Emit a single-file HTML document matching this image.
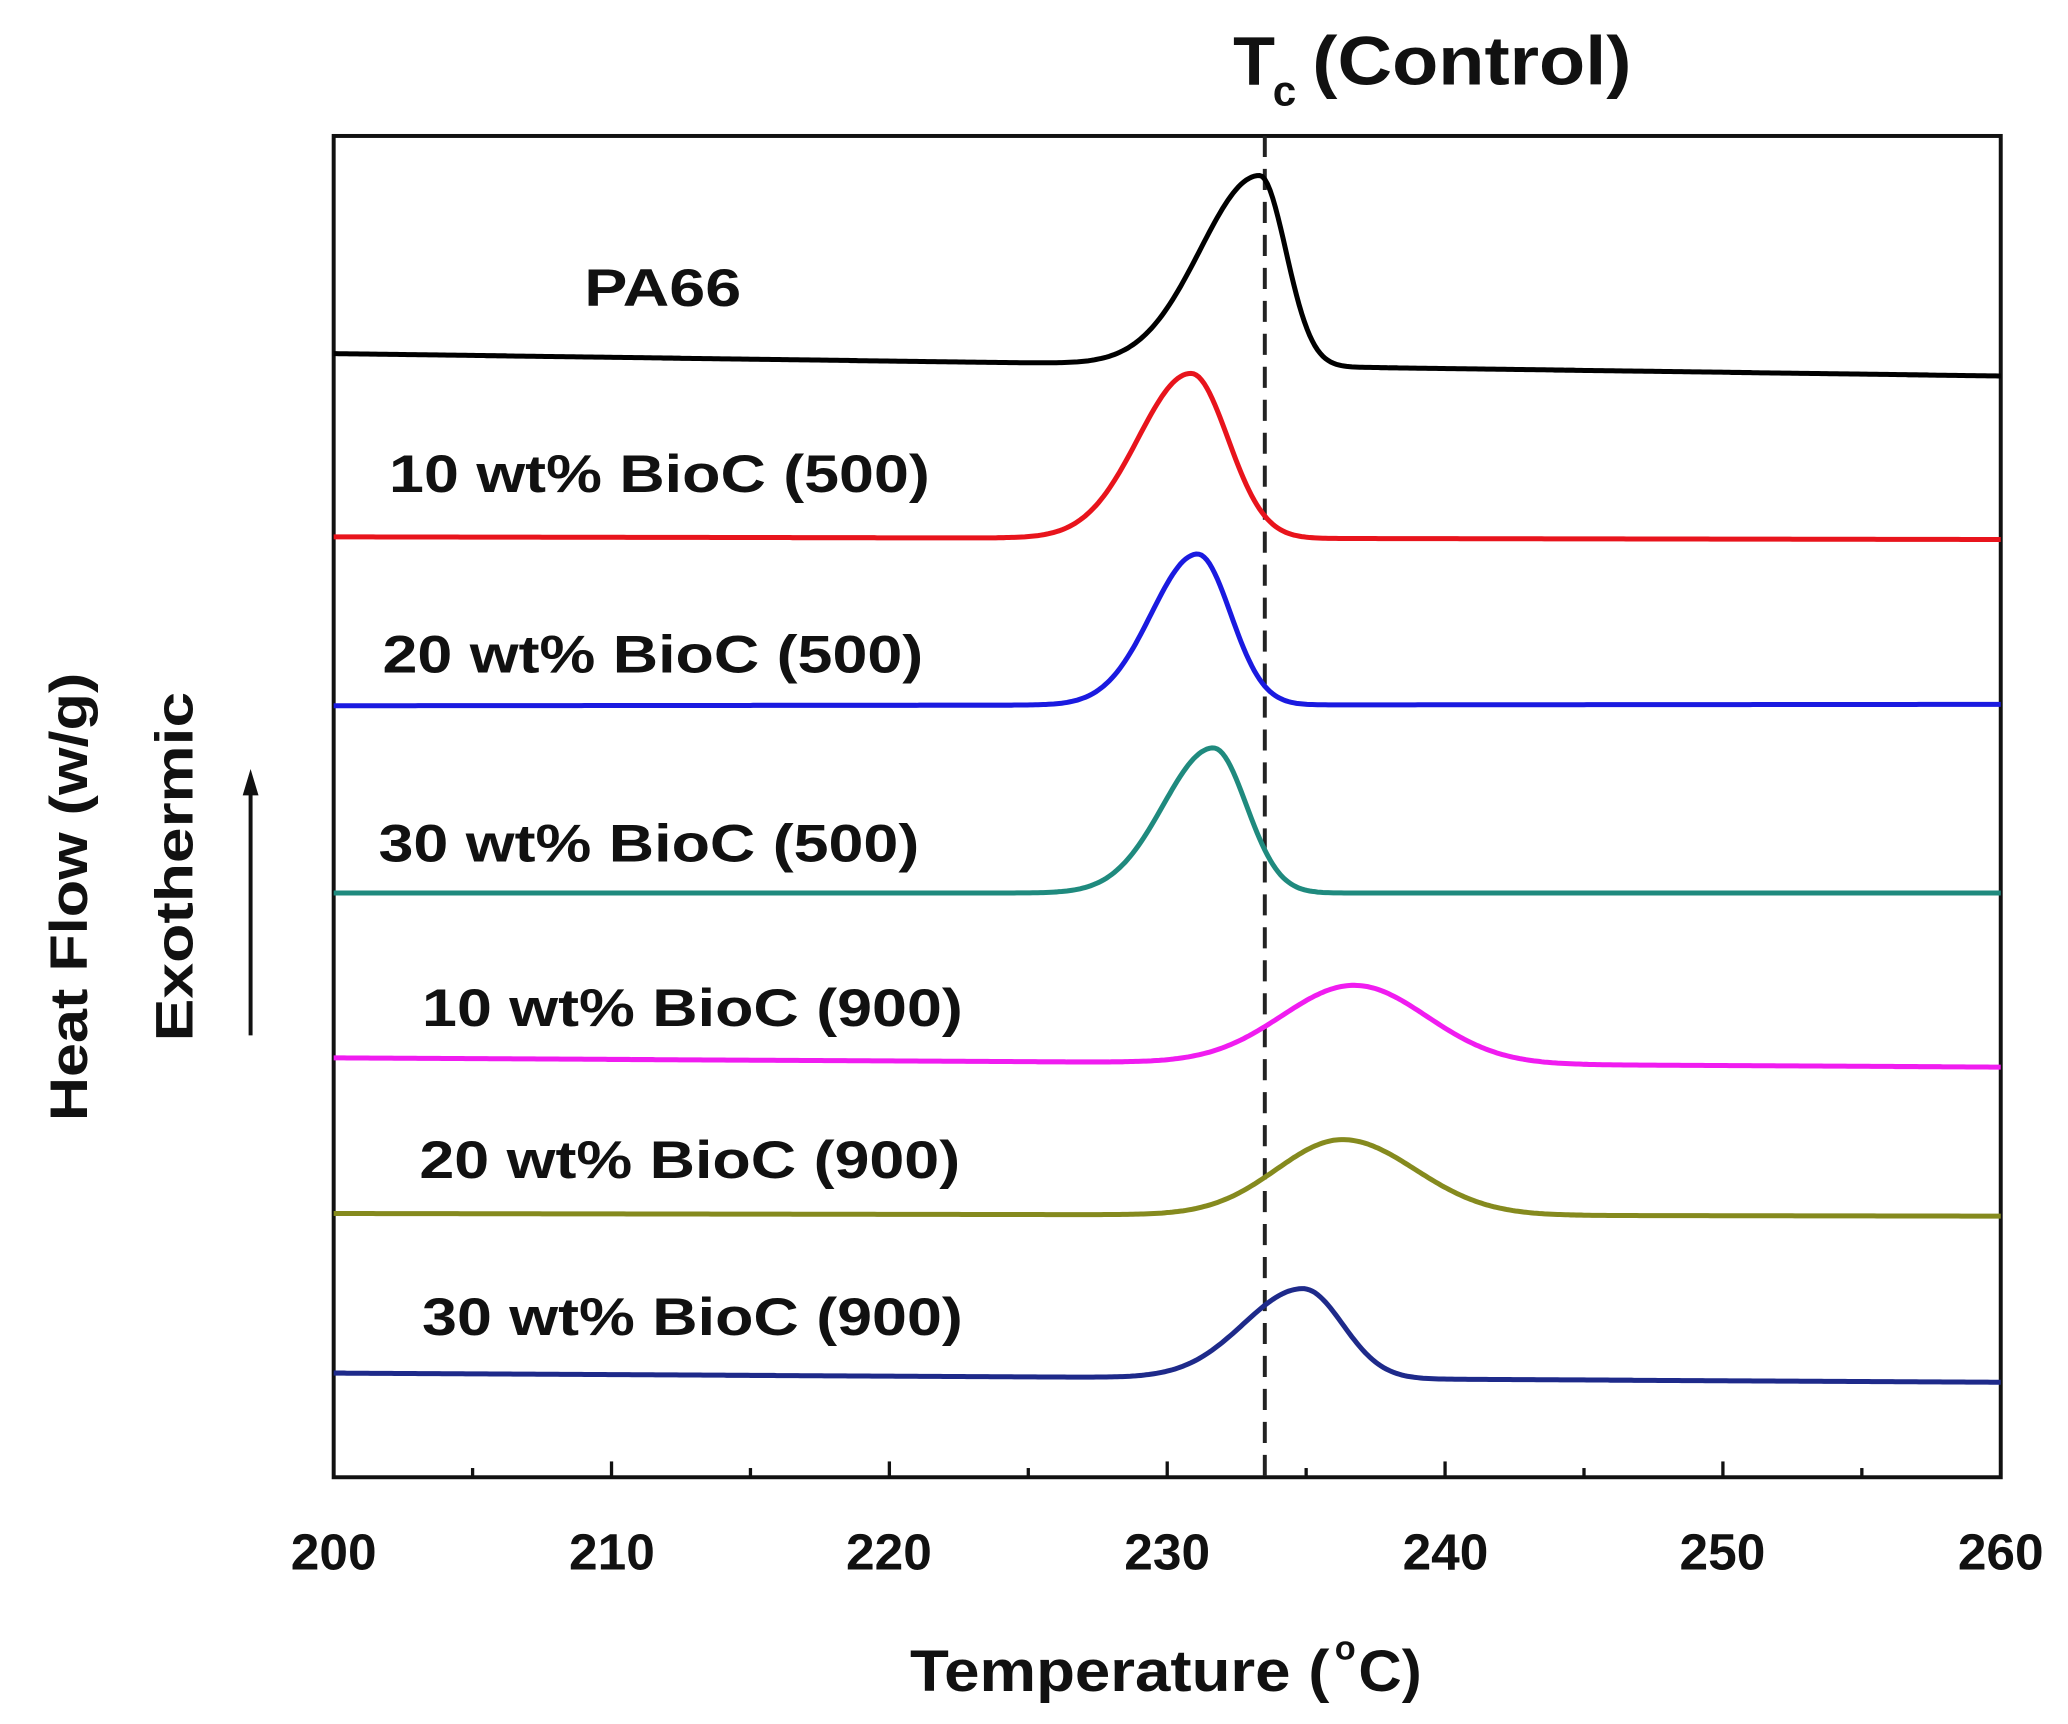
<!DOCTYPE html>
<html><head><meta charset="utf-8"><style>
html,body{margin:0;padding:0;background:#fff;}
svg{display:block;}
text{font-family:"Liberation Sans",Arial,sans-serif;font-weight:bold;fill:#111;}
</style></head><body>
<svg id="s" width="2068" height="1724" viewBox="0 0 1568 1307" xmlns="http://www.w3.org/2000/svg">
<rect x="253" y="103" width="1264" height="1017" fill="none" stroke="#111" stroke-width="3"/>
<line x1="959" y1="103" x2="959" y2="1120" stroke="#222" stroke-width="3" stroke-dasharray="16,9"/>
<g id="ticks" stroke="#111" stroke-width="2.5"></g>
<g id="curves" fill="none" stroke-width="3.8"></g>
<g font-size="39" text-anchor="middle">
<text x="253" y="1190">200</text><text x="464" y="1190">210</text><text x="674" y="1190">220</text>
<text x="885" y="1190">230</text><text x="1096" y="1190">240</text><text x="1306" y="1190">250</text><text x="1517" y="1190">260</text>
</g>
<text x="690" y="1282" font-size="44" textLength="318" lengthAdjust="spacingAndGlyphs">Temperature (</text>
<text x="1012" y="1258" font-size="26">o</text>
<text x="1030" y="1282" font-size="44" textLength="48" lengthAdjust="spacingAndGlyphs">C)</text>
<text x="935" y="64" font-size="52">T</text>
<text x="965" y="80" font-size="32">c</text>
<text x="995" y="64" font-size="52" textLength="242" lengthAdjust="spacingAndGlyphs">(Control)</text>
<g font-size="40">
<text x="443" y="232" textLength="119" lengthAdjust="spacingAndGlyphs">PA66</text>
<text x="295" y="373" textLength="410" lengthAdjust="spacingAndGlyphs">10 wt% BioC (500)</text>
<text x="290" y="510" textLength="410" lengthAdjust="spacingAndGlyphs">20 wt% BioC (500)</text>
<text x="287" y="653" textLength="410" lengthAdjust="spacingAndGlyphs">30 wt% BioC (500)</text>
<text x="320" y="778" textLength="410" lengthAdjust="spacingAndGlyphs">10 wt% BioC (900)</text>
<text x="318" y="893" textLength="410" lengthAdjust="spacingAndGlyphs">20 wt% BioC (900)</text>
<text x="320" y="1012" textLength="410" lengthAdjust="spacingAndGlyphs">30 wt% BioC (900)</text>
</g>
<text transform="translate(66,680) rotate(-90)" font-size="40" text-anchor="middle" textLength="340" lengthAdjust="spacingAndGlyphs">Heat Flow (w/g)</text>
<text transform="translate(146,657) rotate(-90)" font-size="40" text-anchor="middle" textLength="265" lengthAdjust="spacingAndGlyphs">Exothermic</text>
<line x1="190" y1="785" x2="190" y2="600" stroke="#111" stroke-width="3"/>
<polygon points="190,583 184,603 196,603" fill="#111"/>
</svg>
<script>
var ns="http://www.w3.org/2000/svg";
var t=document.getElementById("ticks");
for(var v=200;v<=260;v+=5){var x=253+(v-200)*21.067;var L=(v%10==0)?12:7;
var l=document.createElementNS(ns,"line");l.setAttribute("x1",x);l.setAttribute("x2",x);l.setAttribute("y1",1120);l.setAttribute("y2",1120-L);t.appendChild(l);}
var C=[
["#000",268,285,955,133,45,20],
["#e8141c",407,409,903,283,40,28],
["#1a1ae0",535,534,908,420,35,25],
["#1f8a7e",677,677,920,567,38,25],
["#f01cf0",802,809,1027,747,55,55],
["#858a1e",920,922,1018,864,50,55],
["#1e2a8a",1041,1048,988,977,45,30]];
var g=document.getElementById("curves");
C.forEach(function(c){var d="";for(var x=253;x<=1517;x+=2){var b=c[1]+(c[2]-c[1])*(x-253)/1264;
var bp=c[1]+(c[2]-c[1])*(c[3]-253)/1264;var h=bp-c[4];var s=x<c[3]?c[5]:c[6];
var y=b-h*Math.exp(-Math.pow((x-c[3])/s,2)/2);d+=(d?"L":"M")+x+","+y.toFixed(1);}
var p=document.createElementNS(ns,"path");p.setAttribute("d",d);p.setAttribute("stroke",c[0]);g.appendChild(p);});
</script>
</body></html>
